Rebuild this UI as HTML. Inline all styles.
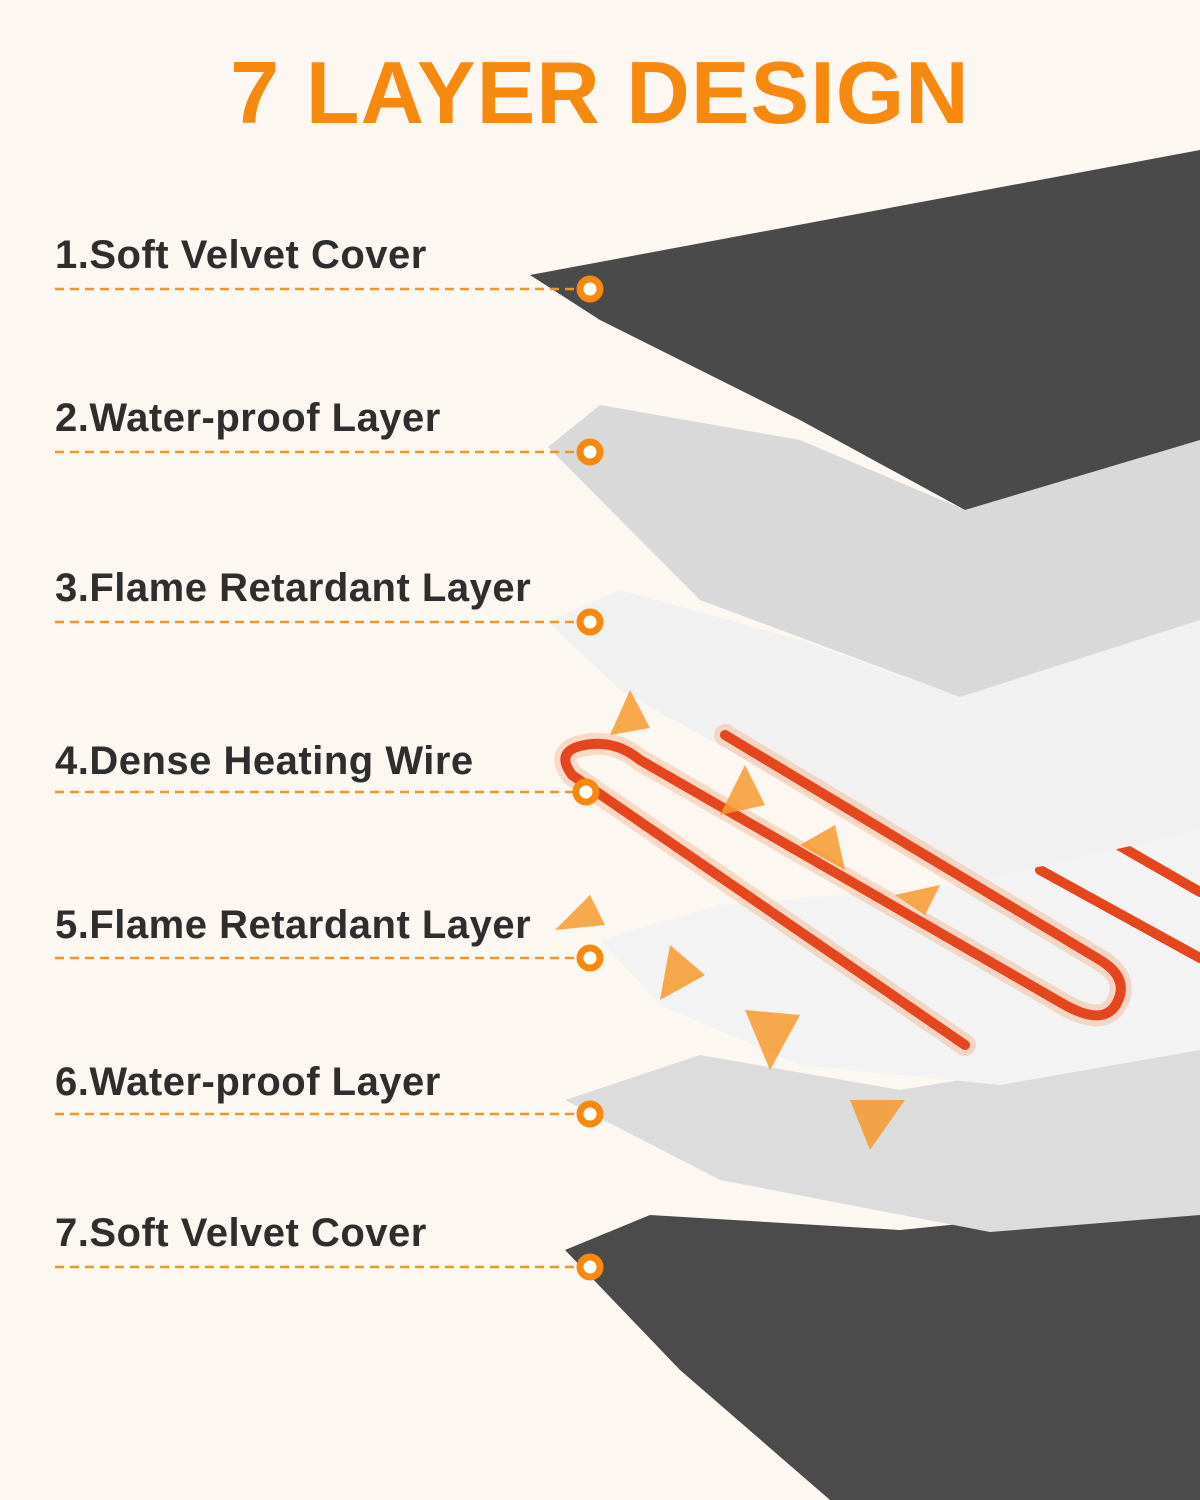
<!DOCTYPE html>
<html><head><meta charset="utf-8"><style>
body{margin:0;width:1200px;height:1500px;background:#fdf7f1;overflow:hidden;position:relative;font-family:"Liberation Sans",sans-serif}
svg{position:absolute;left:0;top:0}
.t{position:absolute;left:0;width:1200px;top:42px;text-align:center;font-weight:bold;font-size:88px;color:#f7890f;letter-spacing:1px}
.l{position:absolute;left:55px;font-size:40px;color:#2e2e2e;font-weight:bold;letter-spacing:0.5px}
</style></head><body>
<svg width="1200" height="1500">
<polygon points="565,1250 650,1215 900,1230 1200,1200 1200,1500 830,1500 680,1370" fill="#4b4b4b"/>
<polygon points="565,1100 700,1055 900,1090 1200,1040 1200,1215 990,1232 720,1180" fill="#dcdcdc"/>
<polygon points="600,940 720,905 960,885 1200,830 1200,1050 1000,1085 800,1065 660,1005" fill="#f3f3f3"/>
<g fill="none" stroke="#e5461e" stroke-width="10" stroke-linecap="round">
<path d="M1040,870 L1200,958"/><path d="M1120,846 L1200,892"/>
</g>
<polygon points="548,622 620,590 800,640 960,697 1200,620 1200,830 960,885 800,790 620,690" fill="#f1f1f1"/>
<polygon points="548,447 600,405 800,440 965,510 1200,440 1200,620 960,697 700,600" fill="#d9d9d9"/>
<polygon points="530,275 1200,150 1200,440 965,510 800,420 600,320" fill="#4a4a4a"/>
<g fill="none" stroke="#f5a070" stroke-width="22" stroke-linecap="round" opacity="0.35">
<path d="M965,1045 L572,775 Q552,748 592,744 Q618,742 640,760 L1065,1005 Q1110,1030 1120,995 Q1125,975 1100,960 L725,735"/>
</g>
<g fill="none" stroke="#e5461e" stroke-width="10" stroke-linecap="round">
<path d="M965,1045 L572,775 Q552,748 592,744 Q618,742 640,760 L1065,1005 Q1110,1030 1120,995 Q1125,975 1100,960 L725,735"/>
</g>
<g fill="#f79a30" opacity="0.85">
<polygon points="630,690 610,735 650,728"/><polygon points="745,765 720,815 765,805"/>
<polygon points="835,825 800,845 845,870"/><polygon points="940,885 895,895 925,915"/>
<polygon points="555,930 590,895 605,925"/><polygon points="660,1000 670,945 705,975"/>
<polygon points="770,1070 745,1010 800,1015"/><polygon points="870,1150 850,1100 905,1100"/>
</g>
<g stroke="#f0952a" stroke-width="2.5" stroke-dasharray="9,6" fill="none">
<line x1="55" y1="289" x2="578" y2="289"/><line x1="55" y1="452" x2="578" y2="452"/>
<line x1="55" y1="622" x2="578" y2="622"/><line x1="55" y1="792" x2="578" y2="792"/>
<line x1="55" y1="958" x2="578" y2="958"/><line x1="55" y1="1114" x2="578" y2="1114"/>
<line x1="55" y1="1267" x2="578" y2="1267"/>
</g>
<g fill="#fff" stroke="#f7890f" stroke-width="7">
<circle cx="590" cy="289" r="10"/><circle cx="590" cy="452" r="10"/><circle cx="590" cy="622" r="10"/>
<circle cx="586" cy="792" r="10"/><circle cx="590" cy="958" r="10"/><circle cx="590" cy="1114" r="10"/><circle cx="590" cy="1267" r="10"/>
</g>
</svg>
<div class="t">7 LAYER DESIGN</div>
<div class="l" style="top:233px">1.Soft Velvet Cover</div>
<div class="l" style="top:396px">2.Water-proof Layer</div>
<div class="l" style="top:566px">3.Flame Retardant Layer</div>
<div class="l" style="top:739px">4.Dense Heating Wire</div>
<div class="l" style="top:903px">5.Flame Retardant Layer</div>
<div class="l" style="top:1060px">6.Water-proof Layer</div>
<div class="l" style="top:1211px">7.Soft Velvet Cover</div>
</body></html>
